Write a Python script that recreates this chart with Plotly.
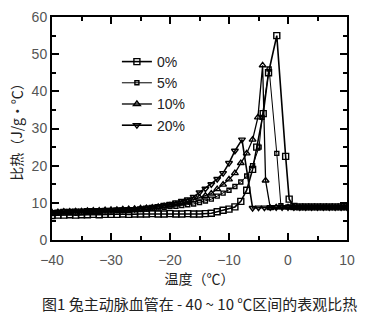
import plotly.graph_objects as go

# ---- data ----
base_x = list(range(-40, -12))  # -40 .. -13

x_0 = base_x + [-12, -11, -10, -9, -8, -7, -6, -5.3, -4.2, -3.3, -1.9, -0.4, 0.2, 1, 2, 3, 4, 5, 6, 7, 8, 9, 10]
y_0 = [6.6, 6.7, 6.7, 6.8, 6.7, 6.8, 6.8, 6.9, 6.8, 6.9, 6.9, 6.9, 7.0, 6.9,
       7.0, 7.0, 7.0, 7.1, 7.0, 7.0, 7.1, 7.0, 7.0, 7.1, 7.0, 7.0, 7.1, 7.2,
       7.6, 8.0, 8.3, 8.9, 10.4, 13.4, 19.0, 25.0, 34.0, 45.0, 55.0, 22.5, 11.0, 9.0,
       8.9, 8.9, 8.9, 8.9, 8.9, 8.9, 8.9, 8.9, 8.9]

x_5 = base_x + [-12, -11, -10, -9, -8, -7, -6, -4.9, -4.4, -3.2, -1.9, -1.2, 0, 1, 2, 3, 4, 5, 6, 7, 8, 9, 10]
y_5 = [7.2, 7.3, 7.3, 7.4, 7.5, 7.5, 7.6, 7.6, 7.7, 7.8, 7.8, 7.9, 8.0, 8.0,
       8.1, 8.2, 8.3, 8.4, 8.6, 8.8, 9.0, 9.1, 9.3, 9.5, 9.7, 10.1, 10.5, 11.0,
       11.8, 12.6, 13.4, 14.4, 15.6, 17.2, 20.0, 25.0, 33.0, 46.0, 23.3, 9.2,
       8.9, 8.9, 8.9, 8.9, 8.9, 8.9, 8.9, 8.9, 8.9, 8.9, 8.9]

x_10 = base_x + [-12, -11, -10, -9, -8, -7, -6, -5.1, -4.3, -3.8, -3.0, -2, -1, 0, 1, 2, 3, 4, 5, 6, 7, 8, 9, 10]
y_10 = [7.4, 7.5, 7.6, 7.6, 7.7, 7.7, 7.8, 7.9, 7.9, 8.0, 8.1, 8.1, 8.2, 8.3,
        8.4, 8.5, 8.6, 8.7, 8.9, 9.1, 9.3, 9.6, 9.9, 10.3, 10.8, 11.4, 11.9, 12.5,
        13.7, 14.9, 16.3, 18.0, 20.7, 23.3, 27.0, 33.0, 47.0, 16.0, 8.6,
        8.8, 8.8, 8.8, 8.8, 8.8, 8.8, 8.8, 8.8, 8.8, 8.8, 8.8, 8.8, 8.8]

x_20 = base_x + [-12, -11, -10, -9, -7.8, -6, -5, -4, -3, -2, -1, 0, 1, 2, 3, 4, 5, 6, 7, 8, 9, 10]
y_20 = [7.5, 7.6, 7.8, 7.8, 7.9, 7.9, 8.0, 8.0, 8.0, 8.1, 8.1, 8.2, 8.2, 8.3,
        8.3, 8.5, 8.7, 8.9, 9.1, 9.4, 9.7, 10.1, 10.5, 10.9, 11.6, 12.8, 13.8, 15.0,
        16.4, 18.0, 20.7, 24.0, 27.0, 8.6, 8.7, 8.7, 8.8, 8.8, 8.8, 8.8,
        8.8, 8.8, 8.8, 8.8, 8.8, 8.8, 8.8, 8.8, 8.8, 8.8]

series = [
    ("0%", x_0, y_0, "square-open", 6, 1.6),
    ("5%", x_5, y_5, "square-open", 4, 1.0),
    ("10%", x_10, y_10, "triangle-up-open", 6, 1.3),
    ("20%", x_20, y_20, "triangle-down-open", 6, 1.6),
]

x_ticks = [-40, -30, -20, -10, 0, 10]
y_ticks = [0, 10, 20, 30, 40, 50, 60]

fig = go.Figure()
for name, xs, ys, sym, size, lw in series:
    fig.add_trace(go.Scatter(
        x=xs, y=ys, name=name, mode="lines+markers",
        line=dict(color="black", width=lw),
        marker=dict(symbol=sym, size=size, color="black", line=dict(color="black", width=1.4)),
    ))

axis_font = dict(family="Liberation Sans, Arial, sans-serif", size=14, color="#555")
fig.update_layout(
    width=374, height=325,
    margin=dict(l=52, r=27, t=9, b=85),
    paper_bgcolor="white", plot_bgcolor="white",
    showlegend=True,
    legend=dict(x=0.22, y=0.87, xanchor="left", yanchor="top",
                bgcolor="rgba(0,0,0,0)", font=dict(family="Liberation Sans, Arial, sans-serif", size=14, color="#222"),
                tracegroupgap=0, itemwidth=30),
    xaxis=dict(range=[-40, 10], tickmode="array", tickvals=x_ticks,
               ticks="inside", ticklen=7, tickwidth=1.5, tickcolor="black",
               minor=dict(ticks="inside", ticklen=4, dtick=5, tickcolor="black"),
               showline=True, linecolor="black", linewidth=2, mirror="ticks",
               showgrid=False, zeroline=False, tickfont=axis_font, ticklabelstandoff=6,
               title=dict(text="温度（℃）", font=dict(family="Noto Sans CJK SC", size=14, color="#222"), standoff=0)),
    yaxis=dict(range=[0, 60], tickmode="array", tickvals=y_ticks,
               ticks="inside", ticklen=7, tickwidth=1.5, tickcolor="black",
               minor=dict(ticks="inside", ticklen=4, dtick=5, tickcolor="black"),
               showline=True, linecolor="black", linewidth=2, mirror="ticks",
               showgrid=False, zeroline=False, tickfont=axis_font,
               title=dict(text="比热（J/g·℃）", font=dict(family="Noto Sans CJK SC", size=14, color="#222"), standoff=6)),
)

fig.add_annotation(
    text="图1 兔主动脉血管在 - 40 ~ 10 ℃区间的表观比热",
    xref="paper", yref="paper", x=0.5, y=-0.23, xanchor="center", yanchor="top",
    showarrow=False, font=dict(family="Noto Sans CJK SC", size=15, color="#222"),
)

fig.write_html("out.html")
